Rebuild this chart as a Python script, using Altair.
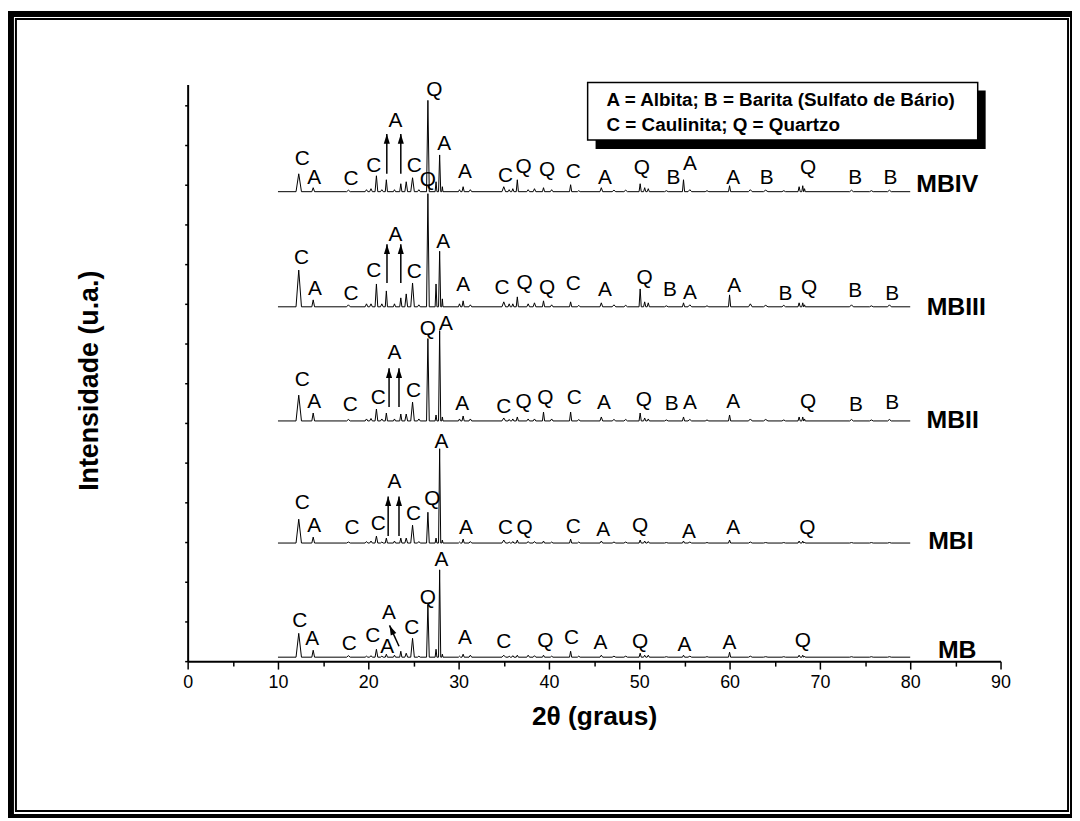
import math
import altair as alt
import pandas as pd

# ---------------- data ----------------
series_names = ["MB", "MBI", "MBII", "MBIII", "MBIV"]
series_offsets = [4, 119, 242, 357, 473]          # vertical shift of each pattern (u.a.)
series_label_x = [85.2, 84.5, 84.7, 85.1, 84.1]   # 2θ where the sample name sits
series_label_h = [7, 2, 1, 0, 8]                  # height of the name above the pattern

# reflections (2θ) and their half widths
peak_pos = [12.3, 13.9, 17.8, 19.8, 20.3, 20.9, 21.5, 22.0, 22.9, 23.6,
            24.2, 24.9, 25.6, 26.6, 27.5, 27.9, 28.2, 30.1, 30.5, 31.3,
            35.0, 35.6, 36.0, 36.5, 37.7, 38.4, 39.4, 40.3, 42.4, 43.3,
            45.8, 47.2, 48.5, 50.1, 50.6, 51.0, 53.0, 54.9, 55.6, 57.5,
            60.0, 62.3, 64.0, 66.0, 67.7, 68.1, 68.3, 73.5, 75.7, 77.7]
peak_halfwidth = [0.3, 0.15, 0.2, 0.15, 0.15, 0.15, 0.15, 0.12, 0.12, 0.12,
                  0.15, 0.2, 0.15, 0.15, 0.1, 0.12, 0.07, 0.12, 0.12, 0.15,
                  0.2, 0.12, 0.12, 0.12, 0.15, 0.15, 0.12, 0.15, 0.12, 0.15,
                  0.15, 0.2, 0.2, 0.12, 0.12, 0.12, 0.2, 0.12, 0.2, 0.2,
                  0.12, 0.2, 0.25, 0.2, 0.12, 0.1, 0.08, 0.2, 0.2, 0.2]

h_MB = [24, 7, 1.5, 1, 1.5, 8, 1, 3, 2, 6, 4, 19, 1, 53, 8, 88, 3, 1, 3, 2,
        2, 1, 1.5, 2, 2, 1.5, 2, 1, 6, 1, 2, 1, 1, 4, 2, 2, 0.5, 2, 1, 0.5,
        5, 1, 0.5, 0.5, 2, 2, 1, 0.5, 0.5, 0.5]
h_MBI = [24, 6, 1, 1.5, 2, 7, 1, 5, 2, 5, 5, 18, 1.5, 31, 5, 95, 3, 1, 4, 1.5,
         3, 1, 1.5, 3, 1.5, 1.5, 2, 1, 4, 1, 2, 1, 1, 3, 2, 1.5, 0.5, 2, 1, 0.5,
         3, 1, 0.5, 0.5, 2, 2, 1, 0.5, 0.5, 0.5]
h_MBII = [26, 8, 1.5, 2, 2.5, 12, 2, 8, 2, 7, 7, 19, 2, 83, 6, 91, 4, 2, 5, 2,
          3, 1.5, 2, 4, 2, 2, 9, 2, 9, 1.5, 4, 1.5, 1.5, 8, 3, 2, 1, 4, 1.5, 1,
          6, 2, 1.5, 1, 4, 4, 2, 1.5, 1, 1.5]
h_MBIII = [37, 7, 2, 3, 3, 23, 3, 16, 3, 9, 13, 24, 2, 114, 23, 56, 8, 3, 6, 2,
           5, 3, 3, 10, 3, 4, 6, 2, 5, 1.5, 4, 2, 1.5, 18, 5, 4, 1, 4, 2, 1,
           12, 3, 1.5, 1.5, 4, 4, 2, 2, 1, 2]
h_MBIV = [18, 4, 1.5, 2, 3, 16, 2, 12, 2, 8, 10, 14, 2, 92, 10, 37, 5, 2, 5, 2,
          5, 2, 3, 12, 2, 3, 4, 2, 7, 1, 4, 1.5, 1.5, 8, 4, 3, 1, 12, 2, 1,
          6, 2, 1.5, 1, 5, 6, 3, 1.5, 1, 1.5]
series_heights = [h_MB, h_MBI, h_MBII, h_MBIII, h_MBIV]

# phase letters: (letter, 2θ, height above pattern)
lbl_MB = [("C", 12.4, 36), ("A", 13.8, 18), ("C", 17.9, 13), ("C", 20.5, 21),
          ("A", 22.3, 44), ("A", 22.1, 10), ("C", 24.8, 29), ("Q", 26.6, 60),
          ("A", 28.1, 98), ("A", 30.7, 19), ("C", 35.0, 15), ("Q", 39.6, 16),
          ("C", 42.5, 19), ("A", 45.7, 14), ("Q", 50.1, 15), ("A", 55.0, 12),
          ("A", 60.0, 14), ("Q", 68.1, 16)]
lbl_MBI = [("C", 12.7, 40), ("A", 14.0, 17), ("C", 18.2, 15), ("C", 21.1, 19),
           ("A", 22.9, 61), ("C", 25.0, 29), ("Q", 27.1, 44), ("A", 28.1, 102),
           ("A", 30.8, 15), ("C", 35.2, 15), ("Q", 37.3, 15), ("C", 42.7, 16),
           ("A", 46.0, 13), ("Q", 50.1, 17), ("A", 55.5, 11), ("A", 60.4, 15),
           ("Q", 68.6, 15)]
lbl_MBII = [("C", 12.7, 41), ("A", 14.0, 19), ("C", 18.0, 16), ("C", 21.1, 23),
            ("A", 22.9, 68), ("C", 25.0, 30), ("Q", 26.6, 93), ("A", 28.6, 98),
            ("A", 30.4, 17), ("C", 35.0, 14), ("Q", 37.2, 19), ("Q", 39.6, 23),
            ("C", 42.8, 23), ("A", 46.1, 18), ("Q", 50.5, 21), ("B", 53.6, 17),
            ("A", 55.6, 18), ("A", 60.4, 19), ("Q", 68.7, 19), ("B", 74.0, 16),
            ("B", 78.0, 18)]
lbl_MBIII = [("C", 12.6, 49), ("A", 14.1, 18), ("C", 18.1, 13), ("C", 20.6, 36),
             ("A", 23.0, 72), ("C", 25.1, 35), ("Q", 26.6, 128), ("A", 28.3, 65),
             ("A", 30.5, 22), ("C", 34.8, 19), ("Q", 37.3, 24), ("Q", 39.8, 19),
             ("C", 42.7, 23), ("A", 46.2, 17), ("Q", 50.6, 29), ("B", 53.4, 17),
             ("A", 55.6, 14), ("A", 60.5, 21), ("B", 66.2, 13), ("Q", 68.8, 19),
             ("B", 73.9, 16), ("B", 78.0, 13)]
lbl_MBIV = [("C", 12.7, 33), ("A", 14.0, 14), ("C", 18.1, 13), ("C", 20.6, 26),
            ("A", 23.0, 71), ("C", 25.1, 26), ("Q", 27.3, 102), ("A", 28.4, 48),
            ("A", 30.7, 20), ("C", 35.2, 16), ("Q", 37.2, 25), ("Q", 39.8, 22),
            ("C", 42.7, 20), ("A", 46.2, 14), ("Q", 50.3, 24), ("B", 53.8, 14),
            ("A", 55.6, 28), ("A", 60.4, 14), ("B", 64.1, 14), ("Q", 68.7, 24),
            ("B", 73.9, 14), ("B", 77.8, 14)]
series_letters = [lbl_MB, lbl_MBI, lbl_MBII, lbl_MBIII, lbl_MBIV]

# arrows: (pattern, 2θ tail, h tail, 2θ head, h head)
arrows = [("MB", 23.4, 11, 22.35, 32),
          ("MBI", 22.2, 7, 22.2, 47), ("MBI", 23.4, 7, 23.4, 47),
          ("MBII", 22.3, 14, 22.3, 53), ("MBII", 23.4, 14, 23.4, 53),
          ("MBIII", 22.07, 24, 22.07, 63), ("MBIII", 23.6, 24, 23.6, 63),
          ("MBIV", 22.05, 18, 22.05, 58), ("MBIV", 23.6, 18, 23.6, 58)]

legend_lines = ["A = Albita; B = Barita (Sulfato de Bário)",
                "C = Caulinita; Q = Quartzo"]
x_ticks = [0, 5, 10, 15, 20, 25, 30, 35, 40, 45, 50, 55, 60, 65, 70, 75, 80, 85, 90]
y_ticks = list(range(0, 590, 10))

# ---------------- tables ----------------
offset = dict(zip(series_names, series_offsets))
line_rows = []
for name, base, heights in zip(series_names, series_offsets, series_heights):
    k = 0
    line_rows.append({"s": name, "x": 10.0, "u": base, "o": k}); k += 1
    for p, w, h in zip(peak_pos, peak_halfwidth, heights):
        for xx, uu in ((p - w, base), (p, base + h), (p + w, base)):
            line_rows.append({"s": name, "x": xx, "u": uu, "o": k}); k += 1
    line_rows.append({"s": name, "x": 80.0, "u": base, "o": k})
lines_df = pd.DataFrame(line_rows)

letter_rows = []
for name, base, lst in zip(series_names, series_offsets, series_letters):
    for t, xx, h in lst:
        letter_rows.append({"t": t, "x": xx, "u": base + h})
letters_df = pd.DataFrame(letter_rows)

names_df = pd.DataFrame({"t": series_names, "x": series_label_x,
                         "u": [b + h for b, h in zip(series_offsets, series_label_h)]})

# ---------------- layout (page pixels) ----------------
OX, OY = 189, 82            # plot origin on the page
W, H = 819, 581
PAD = {"left": OX - 8, "top": OY - 8, "right": 1072 - (OX - 8) - W,
       "bottom": 813 - (OY - 8) - H}
FONT = "Liberation Sans"
one = pd.DataFrame({"k": [0]})
PX_PER_X = W / 90.0

arrow_df = pd.DataFrame([{"x": a[1], "u": offset[a[0]] + a[2],
                          "x2": a[3], "u2": offset[a[0]] + a[4]} for a in arrows])
arrow_df["ang"] = [
    (math.degrees(math.atan2((r.x2 - r.x) * PX_PER_X, (r.u2 - r.u))) + 360) % 360
    for r in arrow_df.itertuples()]


def rect(x1, x2, y1, y2, **kw):
    return alt.Chart(one).mark_rect(**kw).encode(
        x=alt.value(x1 - OX), x2=alt.value(x2 - OX),
        y=alt.value(y1 - OY), y2=alt.value(y2 - OY))


frame = [
    rect(8, 1080, 8, 821, color="black"),
    rect(14, 1078, 14, 817, color="white"),
    rect(15, 1077, 15, 815, color="black"),
    rect(17, 1075, 17, 813, color="white"),
]

legend = [
    rect(600, 993, 88, 147, color="black"),
    rect(592, 985, 80, 138, fill="white", stroke="black", strokeWidth=1.5),
]
for i, txt in enumerate(legend_lines):
    legend.append(alt.Chart(pd.DataFrame({"t": [txt]})).mark_text(
        font=FONT, fontSize=19, fontWeight="bold", align="left",
        baseline="middle", color="black").encode(
        x=alt.value(611 - OX), y=alt.value(98 + 25 * i - OY), text="t:N"))

xscale = alt.Scale(domain=[0, 90], nice=False)
yscale = alt.Scale(domain=[0, 581], nice=False, zero=False)

x_axis = alt.Axis(
    values=x_ticks, title="2θ (graus)", grid=False, zindex=1,
    labelExpr="datum.value % 10 === 0 ? datum.label : ''",
    tickSize={"condition": {"test": "datum.value % 10 === 0", "value": 8}, "value": 5},
    labelFont=FONT, labelFontSize=18, labelColor="black", labelPadding=5,
    labelFlush=False, labelOverlap=False,
    titleFont=FONT, titleFontSize=26.5, titleFontWeight="bold", titleColor="black",
    titleY=56, titleBaseline="middle",
    domainColor="black", domainWidth=2, tickColor="black", tickWidth=1.5)
y_axis = alt.Axis(
    values=y_ticks, labels=False, title="Intensidade (u.a.)", grid=False, zindex=1,
    tickSize=3, tickColor="black", tickWidth=1.5, domainColor="black", domainWidth=2,
    titleFont=FONT, titleFontSize=27, titleFontWeight="bold", titleColor="black",
    titleX=90 - OX, titleY=380 - OY, titleAngle=270, titleAlign="center",
    titleBaseline="middle")

lines = alt.Chart(lines_df).mark_line(color="black", strokeWidth=1).encode(
    x=alt.X("x:Q", scale=xscale, axis=x_axis),
    y=alt.Y("u:Q", scale=yscale, axis=y_axis),
    detail="s:N", order="o:Q")

letters = alt.Chart(letters_df).mark_text(
    font=FONT, fontSize=21, color="black", baseline="middle").encode(
    x="x:Q", y="u:Q", text="t:N")

names = alt.Chart(names_df).mark_text(
    font=FONT, fontSize=25, fontWeight="bold", color="black",
    baseline="middle").encode(x="x:Q", y="u:Q", text="t:N")

shafts = alt.Chart(arrow_df).mark_rule(color="black", strokeWidth=1.5).encode(
    x="x:Q", y="u:Q", x2="x2:Q", y2="u2:Q")
heads = alt.Chart(arrow_df).mark_point(
    shape="M0,0L0.5,1.6L-0.5,1.6Z", filled=True, size=150, color="black",
    opacity=1).encode(x="x2:Q", y="u2:Q", angle=alt.Angle("ang:Q", scale=None))

chart = alt.layer(*frame, *legend, lines, shafts, heads, letters, names).properties(
    width=W, height=H, padding=PAD,
    autosize=alt.AutoSizeParams(type="none"), background="white"
).configure_view(strokeWidth=0)

chart.save("out.html", embed_options={"renderer": "svg", "actions": False})
